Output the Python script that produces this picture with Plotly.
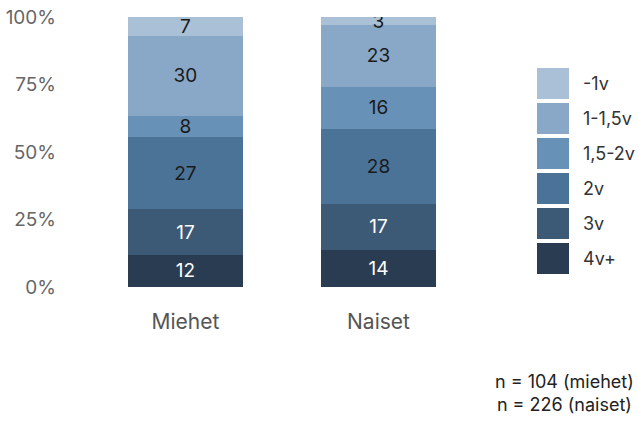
import plotly.graph_objects as go

groups = ["Miehet", "Naiset"]
categories = ["4v+", "3v", "2v", "1,5-2v", "1-1,5v", "-1v"]
values = {
    "4v+":    [12, 14],
    "3v":     [17, 17],
    "2v":     [27, 28],
    "1,5-2v": [8, 16],
    "1-1,5v": [30, 23],
    "-1v":    [7, 3],
}
y_ticks = [0, 25, 50, 75, 100]
note_lines = ["n = 104 (miehet)", "n = 226 (naiset)"]

colors = {
    "4v+":    "#2a3c51",
    "3v":     "#3c5975",
    "2v":     "#4b7398",
    "1,5-2v": "#6891b7",
    "1-1,5v": "#89a8c7",
    "-1v":    "#a9c0d7",
}
text_colors = {
    "4v+": "white", "3v": "white", "2v": "#1a1a1a",
    "1,5-2v": "#1a1a1a", "1-1,5v": "#1a1a1a", "-1v": "#1a1a1a",
}

FONT = "Inter"
W, H = 638, 421
L, R, T, B = 65, 475, 17, 287  # plot area in pixels


def px(x):
    return (x - L) / (R - L)


def py(y):
    return (B - y) / (B - T)


fig = go.Figure()
for cat in categories:
    fig.add_trace(go.Bar(
        x=groups, y=values[cat], name=cat,
        marker=dict(color=colors[cat], line=dict(width=0)),
        text=values[cat], texttemplate="%{text}",
        textposition="inside", insidetextanchor="middle", textangle=0,
        textfont=dict(color=text_colors[cat], size=19, family=FONT),
        width=0.6, showlegend=False, hoverinfo="name+y",
    ))

# hand-made legend with big swatches
shapes, annotations = [], []
for i, cat in enumerate(reversed(categories)):
    top = 68 + i * 35
    shapes.append(dict(type="rect", xref="paper", yref="paper",
                       x0=px(537), x1=px(569), y0=py(top + 31), y1=py(top),
                       fillcolor=colors[cat], line=dict(width=0)))
    annotations.append(dict(xref="paper", yref="paper", x=px(581), y=py(top + 15.5),
                            text=cat, showarrow=False, xanchor="left", yanchor="middle",
                            font=dict(size=18, color="#333", family=FONT)))

annotations.append(dict(xref="paper", yref="paper", x=px(636), y=py(393),
                        text="<br>".join(note_lines), showarrow=False,
                        xanchor="right", yanchor="middle", align="center",
                        font=dict(size=18, color="#222", family=FONT)))

fig.update_layout(
    width=W, height=H,
    barmode="stack", barnorm="percent",
    margin=dict(l=L, r=W - R, t=T, b=H - B),
    plot_bgcolor="white", paper_bgcolor="white",
    font=dict(family=FONT, color="#555"),
    uniformtext=dict(minsize=19, mode="show"),
    shapes=shapes, annotations=annotations,
    xaxis=dict(range=[-0.624, 1.5], showgrid=False, showline=False, zeroline=False,
               ticks="", tickfont=dict(size=21, color="#555"), ticklabelstandoff=20,
               automargin=False),
    yaxis=dict(range=[0, 100], tickvals=y_ticks, ticktext=[f"{v}%" for v in y_ticks],
               showgrid=False, zeroline=False, showline=False, ticks="",
               tickfont=dict(size=19, color="#666"), ticklabelstandoff=8,
               automargin=False),
)

fig.write_html("out.html", config={"displayModeBar": False},
               post_script="document.body.style.margin='0';")
